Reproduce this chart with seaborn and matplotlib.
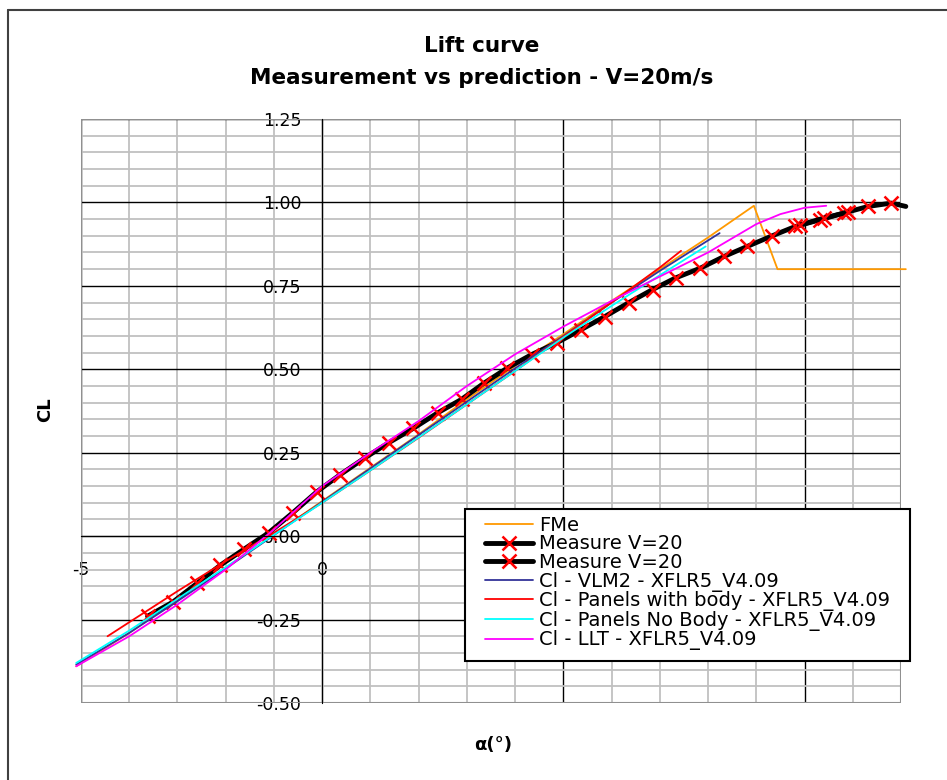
import seaborn as sns
import matplotlib.pyplot as plt
import pandas as pd
from matplotlib.ticker import MultipleLocator, FormatStrFormatter
from matplotlib.lines import Line2D
from matplotlib.patches import Rectangle

sns.set_style("white")
plt.rcParams['font.family'] = ['DejaVu Sans']
plt.rcParams['axes.unicode_minus'] = False
plt.rcParams['text.color'] = 'black'
plt.rcParams['xtick.color'] = 'black'
plt.rcParams['ytick.color'] = 'black'

# --- data ---
fme_alpha = [-5.1, -4, -3, -2, -1, 0, 1, 2, 3, 4, 5, 6, 7, 8, 8.95, 9.44, 12.1]
fme_cl = [-0.39, -0.29, -0.19, -0.095, 0.005, 0.105, 0.205, 0.305, 0.41, 0.51,
          0.605, 0.705, 0.80, 0.895, 0.99, 0.80, 0.80]

meas_alpha = [-3.62, -3.10, -2.59, -2.11, -1.63, -1.11, -0.61, -0.11, 0.37, 0.89,
              1.38, 1.89, 2.40, 2.89, 3.35, 3.84, 4.34, 4.87, 5.37, 5.86, 6.36,
              6.85, 7.33, 7.84, 8.33, 8.81, 9.33, 9.81, 10.32, 10.81, 11.32, 11.80, 12.1]
meas_cl = [-0.24, -0.198, -0.141, -0.087, -0.040, 0.010, 0.070, 0.133, 0.184, 0.235,
           0.280, 0.323, 0.370, 0.410, 0.458, 0.504, 0.544, 0.580, 0.619, 0.658, 0.700,
           0.739, 0.774, 0.803, 0.838, 0.868, 0.900, 0.928, 0.948, 0.968, 0.988, 0.998, 0.988]

meas2_alpha = [9.9, 10.4, 10.9]
meas2_cl = [0.932, 0.953, 0.971]

vlm_alpha = [-5.1, -4, -3, -2, -1, 0, 1, 2, 3, 4, 5, 6, 7, 8.24]
vlm_cl = [-0.385, -0.29, -0.195, -0.097, 0.003, 0.103, 0.203, 0.303, 0.403, 0.503,
          0.60, 0.70, 0.795, 0.908]

pwb_alpha = [-4.45, -4, -3, -2, -1, 0, 1, 2, 3, 4, 5, 6, 7, 7.44]
pwb_cl = [-0.30, -0.258, -0.165, -0.075, 0.010, 0.100, 0.197, 0.295, 0.395, 0.495,
          0.598, 0.700, 0.805, 0.855]

pnb_alpha = [-5.1, -4, -3, -2, -1, 0, 1, 2, 3, 4, 5, 6, 7, 7.95]
pnb_cl = [-0.38, -0.283, -0.188, -0.093, 0.004, 0.100, 0.197, 0.296, 0.395, 0.495,
          0.595, 0.69, 0.782, 0.868]

llt_alpha = [-5.1, -4, -3, -2, -1, 0, 1, 2, 3, 4, 5, 6, 7, 8, 9, 9.5, 10, 10.45]
llt_cl = [-0.39, -0.30, -0.205, -0.10, 0.02, 0.15, 0.25, 0.345, 0.45, 0.545,
          0.628, 0.705, 0.778, 0.85, 0.935, 0.965, 0.984, 0.99]

x_ticks = [-5, 0, 5, 10]
x_tick_labels = ['-5', '0', '', '']  # 5 and 10 sit behind the legend

W, H = 947, 780
fig = plt.figure(figsize=(W / 100, H / 100), dpi=100)
ax = fig.add_axes([81 / W, 1 - 703 / H, 820 / W, 584 / H])

thin = dict(lw=1.3, clip_on=False, ax=ax, sort=False)
sns.lineplot(x=fme_alpha, y=fme_cl, color='#FF9900', label='FMe', **thin)
sns.lineplot(x=meas_alpha, y=meas_cl, color='black', lw=3.5, marker='x',
             markersize=10, markeredgecolor='red', markeredgewidth=1.8,
             markevery=list(range(len(meas_alpha) - 1)), sort=False,
             clip_on=False, label='Measure V=20', ax=ax)
sns.lineplot(x=meas2_alpha, y=meas2_cl, color='black', lw=3.5, marker='x',
             markersize=10, markeredgecolor='red', markeredgewidth=1.8, sort=False,
             clip_on=False, label='Measure V=20', ax=ax)
sns.lineplot(x=vlm_alpha, y=vlm_cl, color='#333399', label='Cl - VLM2 - XFLR5_V4.09', **thin)
sns.lineplot(x=pwb_alpha, y=pwb_cl, color='#FF0000',
             label='Cl - Panels with body - XFLR5_V4.09', **thin)
sns.lineplot(x=pnb_alpha, y=pnb_cl, color='#00FFFF',
             label='Cl - Panels No Body - XFLR5_V4.09', **thin)
sns.lineplot(x=llt_alpha, y=llt_cl, color='#FF00FF', label='Cl - LLT - XFLR5_V4.09', **thin)

ax.set_xlim(-5, 12)
ax.set_ylim(-0.5, 1.25)
ax.set_xticks(x_ticks, labels=x_tick_labels)
ax.xaxis.set_minor_locator(MultipleLocator(1))
ax.yaxis.set_major_locator(MultipleLocator(0.25))
ax.yaxis.set_minor_locator(MultipleLocator(0.05))
ax.yaxis.set_major_formatter(FormatStrFormatter('%.2f'))
ax.set_axisbelow(True)
ax.grid(which='minor', color='#c0c0c0', lw=1.3)
ax.grid(which='major', color='black', lw=1.0)

for s in ['top', 'right']:
    ax.spines[s].set_visible(False)
ax.spines['left'].set_position(('data', 0))
ax.spines['bottom'].set_position(('data', 0))
ax.spines['left'].set_color('black')
ax.spines['bottom'].set_color('black')
ax.add_patch(Rectangle((0, 0), 1, 1, transform=ax.transAxes, fill=False,
                       edgecolor='#909090', lw=1.5, zorder=1.5))
ax.tick_params(which='major', direction='out', length=6, width=1, labelsize=12.5)
ax.tick_params(axis='x', which='major', pad=12)
ax.tick_params(axis='y', which='major', pad=9)
ax.tick_params(which='minor', length=0)
ax.set_xlabel('')
ax.set_ylabel('')

fig.text(482 / W, 1 - 46 / H, 'Lift curve', ha='center', va='center',
         fontsize=15.5, fontweight='bold')
fig.text(482 / W, 1 - 78 / H, 'Measurement vs prediction - V=20m/s', ha='center',
         va='center', fontsize=15.5, fontweight='bold')
fig.text(45 / W, 1 - 410 / H, 'CL', rotation=90, ha='center', va='center',
         fontsize=13, fontweight='bold')
fig.text(493 / W, 1 - 745 / H, 'α(°)', ha='center', va='center',
         fontsize=13, fontweight='bold')

# chart border (left and top edges visible)
fig.add_artist(Line2D([8 / W, 8 / W], [0, 1 - 10 / H], color='#404040', lw=1.5))
fig.add_artist(Line2D([8 / W, 1], [1 - 10 / H, 1 - 10 / H], color='#404040', lw=1.5))

# legend box drawn separately so it can be wider than the entries need
ax.add_patch(Rectangle((465 / W, 1 - 661 / H), 445 / W, 152 / H,
                       transform=fig.transFigure, facecolor='white',
                       edgecolor='black', lw=1.5, zorder=4.9, clip_on=False))
handles, labels = ax.get_legend_handles_labels()
leg = ax.legend(handles, labels, loc='upper left',
                bbox_to_anchor=(478 / W, 1 - 509 / H), bbox_transform=fig.transFigure,
                frameon=False, fontsize=14, labelspacing=-0.02, handlelength=2.5,
                handletextpad=0.3, borderpad=0.35, borderaxespad=0)

fig.savefig('out.png', dpi=100)
